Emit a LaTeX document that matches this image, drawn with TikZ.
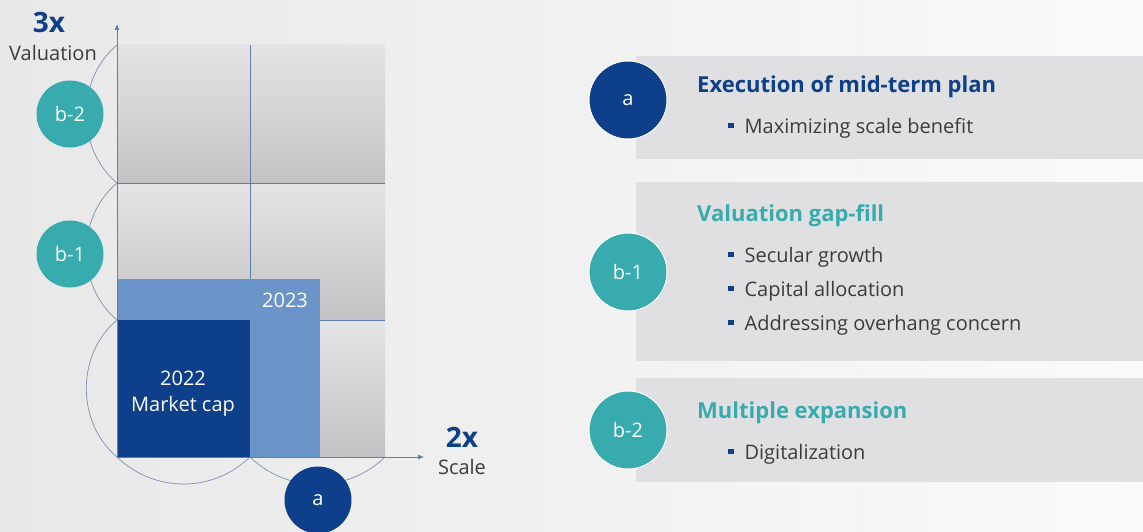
\documentclass[tikz,border=0pt]{standalone}
\usepackage{fontspec}
\setmainfont{Open Sans}
\usetikzlibrary{arrows.meta}
\definecolor{navy}{HTML}{0D3F8A}
\definecolor{tealc}{HTML}{38ABAF}
\definecolor{skyblue}{HTML}{6B95C8}
\definecolor{gridblue}{HTML}{5B7FAE}
\definecolor{arcblue}{HTML}{7E90B2}
\definecolor{panelgray}{HTML}{E0E0E2}
\definecolor{textgray}{HTML}{3C3C3C}
\definecolor{celltop}{HTML}{E4E4E6}
\definecolor{cellbot}{HTML}{C3C3C5}
\newcommand{\sqbullet}{\textcolor{navy}{\rule[0.24em]{0.27em}{0.27em}}\hspace{0.55em}}

\begin{document}
\begin{tikzpicture}[
			x=1pt, y=-1pt,
			every node/.style={inner sep=0pt},
			badge/.style={circle, text=white, font=\fontsize{20}{22}\selectfont},
			navybadge/.style={badge, fill=navy},
			tealbadge/.style={badge, fill=tealc},
			cell/.style={top color=celltop, bottom color=cellbot},
			arcline/.style={draw=arcblue, line width=0.7pt},
			axisline/.style={draw=gridblue, line width=0.8pt, -{Latex[length=6pt, width=5pt]}},
			axisbig/.style={text=navy, font=\fontsize{28}{30}\selectfont\bfseries},
			axislabel/.style={text=textgray, font=\fontsize{20}{22}\selectfont},
			boxlabel/.style={text=white, font=\fontsize{20}{26}\selectfont, align=center},
			headline/.style={anchor=west, font=\fontsize{22}{24}\selectfont\bfseries},
			item/.style={anchor=west, text=textgray, font=\fontsize{20}{22}\selectfont}
			]
			% Background
			\useasboundingbox (0,0) rectangle (1143,532);
			\shade[left color=black!9, right color=black!2] (0,0) rectangle (1143,532);
			
			% Right panels
			\fill[panelgray] (636,56) rectangle (1143,159);
			\fill[panelgray] (636,182) rectangle (1143,361);
			\fill[panelgray] (636,378) rectangle (1143,482);
			
			% Grid cells
			\foreach \xa/\xb in {117/250, 250/385}
			\foreach \ya/\yb in {45/183, 183/320, 320/457}
			\shade[cell] (\xa,\ya) rectangle (\xb,\yb);
			
			% Grid lines
			\draw[gridblue, line width=0.7pt] (250,45) -- (250,457);
			\draw[gridblue, line width=0.7pt] (117,183) -- (385,183);
			\draw[gridblue, line width=0.7pt] (117,320) -- (385,320);
			
			% Market cap boxes
			\fill[skyblue] (117,279) rectangle (320,457);
			\fill[navy] (117,320) rectangle (250,457);
			\node[boxlabel] (y2023) at (285,300) {2023};
			\node[boxlabel] (y2022) at (183,394) {2022\\Market cap};
			
			% Arcs
			\coordinate (v0) at (117,45);
			\coordinate (v1) at (117,183);
			\coordinate (v2) at (117,320);
			\coordinate (orig) at (117,457);
			\coordinate (h1) at (250,457);
			\coordinate (h2) at (385,457);
			\draw[arcline] (v0) to[bend right=50] (v1) to[bend right=50] (v2) to[bend right=50] (orig);
			\draw[arcline] (orig) to[bend right=44] (h1) to[bend right=44] (h2);
			
			% Axes
			\coordinate (ytip) at (117,24);
			\coordinate (xtip) at (424,457);
			\draw[axisline] (orig) -- (ytip);
			\draw[axisline] (orig) -- (xtip);
			\node[axisbig] (ybig) at (49,23) {3x};
			\node[axislabel] (yname) at (53,53) {Valuation};
			\node[axisbig] (xbig) at (462,437) {2x};
			\node[axislabel] (xname) at (462,467) {Scale};
			
			% Badges on the chart
			\node[tealbadge, minimum size=67pt] (lb2) at (70,114) {b-2};
			\node[tealbadge, minimum size=67pt] (lb1) at (70,254) {b-1};
			\node[navybadge, minimum size=67pt] (la) at (318,500) {a};
			
			% Badges on the panels
			\node[navybadge, minimum size=78pt, draw=white, line width=1pt] (ra) at (628,100) {a};
			\node[tealbadge, minimum size=78pt, draw=white, line width=1pt] (rb1) at (628,272) {b-1};
			\node[tealbadge, minimum size=78pt, draw=white, line width=1pt] (rb2) at (628,430) {b-2};
			
			% Panel texts
			\node[headline, text=navy] (ta) at (697,87) {Execution of mid-term plan};
			\node[item] (ta1) at (728,128) {\sqbullet Maximizing scale benefit};
			\node[headline, text=tealc] (tb1) at (697,216) {Valuation gap-fill};
			\node[item] (tb11) at (728,257) {\sqbullet Secular growth};
			\node[item] (tb12) at (728,291) {\sqbullet Capital allocation};
			\node[item] (tb13) at (728,325) {\sqbullet Addressing overhang concern};
			\node[headline, text=tealc] (tb2) at (697,413) {Multiple expansion};
			\node[item] (tb21) at (728,454) {\sqbullet Digitalization};
		\end{tikzpicture}
\end{document}
